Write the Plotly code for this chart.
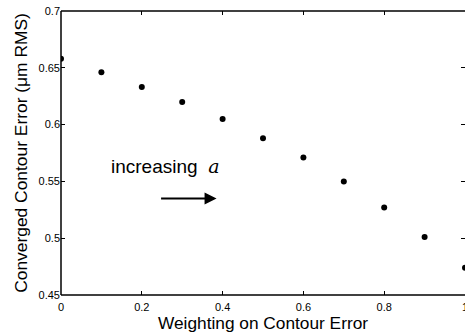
import plotly.graph_objects as go

weights = [0.0, 0.1, 0.2, 0.3, 0.4, 0.5, 0.6, 0.7, 0.8, 0.9, 1.0]
errors = [0.658, 0.646, 0.633, 0.620, 0.605, 0.588, 0.571, 0.550, 0.527, 0.501, 0.474]
x_ticks = [0, 0.2, 0.4, 0.6, 0.8, 1]
x_ticklabels = ["0", "0.2", "0.4", "0.6", "0.8", "1"]
y_ticks = [0.45, 0.5, 0.55, 0.6, 0.65, 0.7]
y_ticklabels = ["0.45", "0.5", "0.55", "0.6", "0.65", "0.7"]

FONT = "Liberation Sans, Arial, sans-serif"

fig = go.Figure()
fig.add_trace(go.Scatter(x=weights, y=errors, mode="markers",
                         marker=dict(color="black", size=6), showlegend=False))

# left, bottom, top spines
for s in [dict(x0=0, x1=0, y0=0, y1=1), dict(x0=0, x1=1, y0=0, y1=0), dict(x0=0, x1=1, y0=1, y1=1)]:
    fig.add_shape(type="line", xref="paper", yref="paper", line=dict(color="black", width=1.5), **s)

fig.add_annotation(x=0.12, y=0.5636, xref="x", yref="y", xanchor="left", yanchor="middle",
                   text="increasing  <span style='font-family:DejaVu Serif, serif; font-style:italic'>a</span>",
                   showarrow=False, font=dict(family=FONT, size=19, color="black"))
fig.add_annotation(x=0.385, y=0.535, ax=0.244, ay=0.535, xref="x", yref="y", axref="x", ayref="y",
                   text="", showarrow=True, arrowhead=2, arrowsize=1.2, arrowwidth=2, arrowcolor="black")
# last tick label, partly outside the picture
fig.add_annotation(x=x_ticks[-1], y=0, xref="x", yref="paper", yanchor="top", yshift=-4,
                   text=x_ticklabels[-1], showarrow=False, font=dict(family=FONT, size=11, color="black"))

fig.update_layout(
    width=465, height=333,
    margin=dict(l=61, r=0, t=11, b=38),
    paper_bgcolor="white", plot_bgcolor="white",
    font=dict(family=FONT, color="black"),
    xaxis=dict(range=[0, 1.0], tickvals=x_ticks, ticktext=x_ticklabels, ticks="inside", ticklen=4,
               tickcolor="black", mirror="ticks", showline=False, showgrid=False, zeroline=False,
               ticklabelstandoff=4,
               tickfont=dict(size=11), title=dict(text="Weighting on Contour Error", font=dict(size=17.3), standoff=0)),
    yaxis=dict(range=[0.45, 0.7], tickvals=y_ticks, ticktext=y_ticklabels, ticks="inside", ticklen=4,
               tickcolor="black", mirror="ticks", showline=False, showgrid=False, zeroline=False,
               tickfont=dict(size=11), title=dict(text="Converged Contour Error (μm RMS)", font=dict(size=17.4), standoff=6)),
)

fig.write_html("out.html")
